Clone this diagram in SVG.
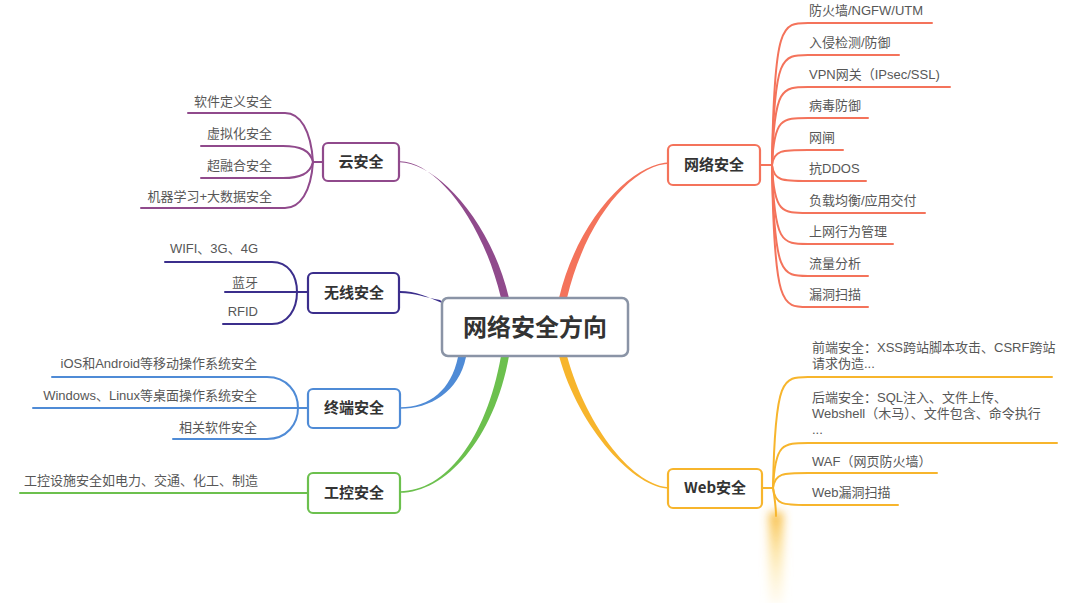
<svg xmlns="http://www.w3.org/2000/svg" width="1080" height="603" viewBox="0 0 1080 603">
<defs>
<style>
.leaf{font-family:"Liberation Sans","Noto Sans CJK SC",sans-serif;font-size:13px;fill:#575757;}
.nt{font-family:"Noto Sans CJK SC","Noto Sans",sans-serif;font-size:15px;font-weight:bold;fill:#333;text-anchor:middle;}
.box{fill:#fff;stroke-width:2.2;}
.ln{fill:none;stroke-width:2;stroke-linecap:round;}
.end{text-anchor:end;}
</style>
<filter id="blur" x="-200%" y="-20%" width="500%" height="140%"><feGaussianBlur stdDeviation="5"/></filter>
<linearGradient id="fade" x1="0" y1="0" x2="0" y2="1"><stop offset="0" stop-color="#f7b52c" stop-opacity="0.9"/><stop offset="0.5" stop-color="#fbd46a" stop-opacity="0.5"/><stop offset="1" stop-color="#fde9a8" stop-opacity="0.15"/></linearGradient>
</defs>
<rect width="1080" height="603" fill="#fff"/>
<g id="connectors">
<path d="M509,298 C489,215 433,162.2 400,162.2 L400,161.2 C433,161.2 481,215 501,298 Z" fill="#904a8c"/>
<path d="M559,298 C579,215 635,162.2 670,162.2 L670,163.8 C635,163.8 587,215 567,298 Z" fill="#f4735b"/>
<path d="M446,305 C429,297 415,291 400,291 L400,293 C415,293 425,297.5 440,300 Z" fill="#3b2e8c"/>
<path d="M458,357 C451,390 430,407.2 400,407.2 L400,408.8 C430,408.8 459,392 466,357 Z" fill="#4f8bd6"/>
<path d="M501,356 C486,440 445,491.2 400,491.2 L400,492.8 C445,492.8 494,440 509,356 Z" fill="#6cc04e"/>
<path d="M567,356 C587,429 635,487.2 670,487.2 L670,488.8 C635,488.8 579,429 559,356 Z" fill="#f7b52c"/>
<g stroke="#904a8c" class="ln">
<path class="ln" d="M323,162 L313,162"/>
<path class="ln" d="M188,113 L285,113 C300,113 311,130 313,162"/>
<path class="ln" d="M201,146 L283,146 C300,146 310,150 313,162"/>
<path class="ln" d="M201,178 L283,178 C300,178 310,174 313,162"/>
<path class="ln" d="M141,208 L285,208 C300,208 311,192 313,162"/>
</g>
<g stroke="#3b2e8c" class="ln">
<path class="ln" d="M308,292 L297,292"/>
<path class="ln" d="M165,262 L272,262 C288,262 297,275 297,292"/>
<path class="ln" d="M225,292 L297,292"/>
<path class="ln" d="M223,324 L272,324 C288,324 297,309 297,292"/>
</g>
<g stroke="#4f8bd6" class="ln">
<path class="ln" d="M308,408 L298,408"/>
<path class="ln" d="M52,377 L267,377 C287,377 298,392 298,408"/>
<path class="ln" d="M33,408 L298,408"/>
<path class="ln" d="M173,439 L267,439 C287,439 298,424 298,408"/>
</g>
<g stroke="#6cc04e" class="ln">
<path class="ln" d="M20,493 L308,493"/>
</g>
<g stroke="#f4735b" class="ln">
<path class="ln" d="M760,165 L772,165"/>
<path class="ln" d="M772,165 C774,23 782,23 808,23 L932,23"/>
<path class="ln" d="M772,165 C774,55 782,55 808,55 L899,55"/>
<path class="ln" d="M772,165 C774,87 782,87 808,87 L950,87"/>
<path class="ln" d="M772,165 C774,118 782,118 808,118 L868,118"/>
<path class="ln" d="M772,165 C774,150 782,150 808,150 L843,150"/>
<path class="ln" d="M772,165 C774,181 782,181 808,181 L866,181"/>
<path class="ln" d="M772,165 C774,213 782,213 808,213 L925,213"/>
<path class="ln" d="M772,165 C774,244 782,244 808,244 L893,244"/>
<path class="ln" d="M772,165 C774,276 782,276 808,276 L868,276"/>
<path class="ln" d="M772,165 C774,307 782,307 808,307 L868,307"/>
</g>
<g stroke="#f7b52c" class="ln">
<path class="ln" d="M762,488 L773,488"/>
<path class="ln" d="M773,488 C775,377 783,377 808,377 L1052,377"/>
<path class="ln" d="M773,488 C775,443 783,443 808,443 L1057,443"/>
<path class="ln" d="M773,488 C775,473 783,473 808,473 L937,473"/>
<path class="ln" d="M773,488 C775,505 783,505 808,505 L898,505"/>
<path class="ln" d="M773,488 C775,500 776,508 776,516"/>
</g>
<rect x="769" y="512" width="14" height="92" fill="url(#fade)" filter="url(#blur)"/>
</g>
<g id="center">
<rect x="442" y="298" width="186" height="58" rx="6" fill="#fff" stroke="#8a94a6" stroke-width="2.5"/>
<text x="535" y="336" font-family="Noto Sans CJK SC,sans-serif" font-size="24" font-weight="bold" fill="#333" text-anchor="middle">网络安全方向</text>
</g>
<g id="n-cloud">
<rect class="box" x="323" y="143" width="76" height="38" rx="5" stroke="#904a8c"/>
<text class="nt" x="361" y="167">云安全</text>
<text class="leaf end" x="272" y="106">软件定义安全</text>
<text class="leaf end" x="272" y="138">虚拟化安全</text>
<text class="leaf end" x="272" y="170">超融合安全</text>
<text class="leaf end" x="272" y="201">机器学习+大数据安全</text>
</g>
<g id="n-wireless">
<rect class="box" x="308" y="273" width="91" height="40" rx="5" stroke="#3b2e8c"/>
<text class="nt" x="354" y="298">无线安全</text>
<text class="leaf end" x="258" y="253">WIFI、3G、4G</text>
<text class="leaf end" x="258" y="287">蓝牙</text>
<text class="leaf end" x="258" y="316">RFID</text>
</g>
<g id="n-terminal">
<rect class="box" x="308" y="389" width="92" height="39" rx="5" stroke="#4f8bd6"/>
<text class="nt" x="354" y="413">终端安全</text>
<text class="leaf end" x="257" y="368">iOS和Android等移动操作系统安全</text>
<text class="leaf end" x="257" y="400">Windows、Linux等桌面操作系统安全</text>
<text class="leaf end" x="257" y="432">相关软件安全</text>
</g>
<g id="n-ics">
<rect class="box" x="308" y="473" width="92" height="40" rx="5" stroke="#6cc04e"/>
<text class="nt" x="354" y="498">工控安全</text>
<text class="leaf end" x="258" y="485">工控设施安全如电力、交通、化工、制造</text>
</g>
<g id="n-network">
<rect class="box" x="668" y="145" width="92" height="40" rx="5" stroke="#f4735b"/>
<text class="nt" x="714" y="170">网络安全</text>
<text class="leaf" x="809" y="15">防火墙/NGFW/UTM</text>
<text class="leaf" x="809" y="47">入侵检测/防御</text>
<text class="leaf" x="809" y="79">VPN网关（IPsec/SSL)</text>
<text class="leaf" x="809" y="110">病毒防御</text>
<text class="leaf" x="809" y="142">网闸</text>
<text class="leaf" x="809" y="173">抗DDOS</text>
<text class="leaf" x="809" y="205">负载均衡/应用交付</text>
<text class="leaf" x="809" y="236">上网行为管理</text>
<text class="leaf" x="809" y="268">流量分析</text>
<text class="leaf" x="809" y="299">漏洞扫描</text>
</g>
<g id="n-web">
<rect class="box" x="668" y="469" width="94" height="39" rx="5" stroke="#f7b52c"/>
<text class="nt" x="715" y="493">Web安全</text>
<text class="leaf" x="812" y="352">前端安全：XSS跨站脚本攻击、CSRF跨站<tspan x="812" dy="16">请求伪造...</tspan></text>
<text class="leaf" x="812" y="402">后端安全：SQL注入、文件上传、<tspan x="812" dy="16">Webshell（木马）、文件包含、命令执行</tspan><tspan x="812" dy="16">...</tspan></text>
<text class="leaf" x="812" y="466">WAF（网页防火墙）</text>
<text class="leaf" x="812" y="497">Web漏洞扫描</text>
</g>
</svg>
